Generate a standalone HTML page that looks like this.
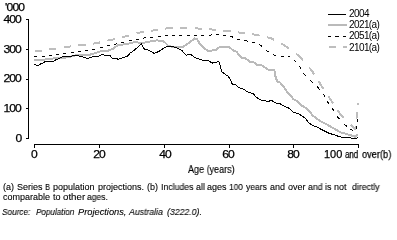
<!DOCTYPE html>
<html><head><meta charset="utf-8"><style>
html,body{margin:0;padding:0;background:#fff;}
body{width:397px;height:227px;position:relative;overflow:hidden;font-family:"Liberation Sans",sans-serif;color:#000;}
.t{position:absolute;white-space:nowrap;line-height:1;will-change:transform;}
.yl{font-size:11px;right:376px;letter-spacing:-0.8px;transform:scaleX(1.1);transform-origin:100% 0;-webkit-text-stroke:0.25px #000;}
.xl{font-size:11px;text-align:center;width:40px;letter-spacing:-0.8px;transform:scaleX(1.1);transform-origin:50% 0;-webkit-text-stroke:0.25px #000;}
.lg{font-size:10px;letter-spacing:-0.6px;left:349.3px;}
.fn{font-size:9px;-webkit-text-stroke:0.1px #000;}
svg{position:absolute;left:0;top:0;}
</style></head><body>
<svg width="397" height="227" viewBox="0 0 397 227">
<g stroke="#000" stroke-width="1" fill="none" shape-rendering="crispEdges">
<path d="M28.5,19 V138.5 M26,19.5 H29 M26,49.5 H29 M26,79.5 H29 M26,108.5 H29 M26,138.5 H29"/>
<path d="M34,144.5 H359 M34.5,144 V148 M99.5,144 V148 M164.5,144 V148 M229.5,144 V148 M293.5,144 V148 M358.5,144 V148"/>
</g>
<path shape-rendering="crispEdges" d="M35.00,51.17 L42.00,51.00 L42.09,50.98 M49.03,49.10 L56.40,48.69 M63.63,47.52 L67.40,46.80 L71.00,46.34 M78.22,45.41 L82.20,44.90 L85.60,44.51 M92.82,43.69 L96.30,43.30 L100.19,42.35 M107.42,40.59 L109.00,40.20 L111.50,39.90 L114.79,39.07 M122.02,37.23 L125.70,36.30 L129.39,35.31 M136.61,33.38 L139.90,32.50 L143.50,32.20 L143.99,32.11 M151.21,30.81 L154.60,30.20 L158.23,29.67 M165.10,28.67 L169.00,28.10 L172.63,28.02 M180.00,27.86 L183.00,27.80 L187.42,28.01 M194.69,28.35 L198.00,28.50 L202.13,28.80 M209.42,29.34 L213.00,29.60 L216.35,29.91 M223.13,30.54 L227.00,30.90 L230.83,31.41 M238.36,32.42 L242.00,32.90 L245.24,33.32 M251.97,34.20 L255.80,34.70 L259.63,35.56 M267.12,37.24 L270.50,38.00 L274.13,39.92 M280.99,43.54 L284.70,45.50 L288.65,48.41 M296.15,53.94 L299.50,56.40 L302.89,60.32 M309.05,67.43 L311.70,70.50 L314.23,74.45 M318.62,81.33 L320.90,84.90 L323.57,88.91 M328.52,96.32 L330.90,99.90 L333.10,103.27 M337.56,110.07 L340.00,113.80 L343.70,117.65 M350.85,125.08 L352.70,127.00 L355.50,129.00 L355.75,126.42 M356.44,119.27 L357.14,111.97 M357.82,104.82 L358.00,103.00" fill="none" stroke="#bebebe" stroke-width="2"/>
<polyline shape-rendering="crispEdges" points="34.0,60.2 44.1,59.6 51.2,58.8 57.5,57.5 66.0,57.5 70.0,56.7 79.0,54.7 90.0,54.7 102.4,50.7 108.0,50.8 113.0,48.7 118.0,45.2 128.3,43.7 134.3,42.2 140.4,42.7 148.0,42.4 151.0,41.2 157.2,40.3 163.2,41.4 165.3,42.7 168.3,45.8 173.4,47.1 182.6,47.0 189.2,42.6 194.7,38.5 196.8,39.0 200.3,44.6 207.4,50.7 211.5,50.7 216.1,49.6 220.1,46.9 229.2,46.9 233.3,50.6 236.3,51.6 241.4,57.7 244.9,57.7 250.1,62.1 255.1,62.6 257.2,64.9 261.2,64.9 268.3,69.7 274.4,70.0 275.6,77.1 277.2,81.6 280.2,82.6 283.2,86.2 286.3,90.7 289.3,94.3 291.1,96.1 293.1,98.9 297.2,101.2 301.2,105.2 305.3,107.7 308.8,110.3 312.3,115.1 316.3,118.2 320.4,121.2 325.8,123.9 332.4,127.7 340.2,132.2 348.7,134.6 355.0,136.7 358.0,134.6" fill="none" stroke="#bababa" stroke-width="2"/>
<path shape-rendering="crispEdges" d="M34.00,56.60 L37.31,56.60 M42.00,56.60 L44.92,56.60 M49.06,55.54 L50.00,55.30 L51.98,55.05 M56.11,54.51 L57.00,54.40 L59.11,54.09 M63.36,53.45 L64.40,53.30 L66.36,53.08 M70.61,52.61 L72.50,52.40 L73.61,52.24 M77.86,51.65 L79.60,51.40 L80.86,51.27 M85.11,50.82 L86.20,50.70 L88.11,50.35 M92.36,49.57 L93.80,49.30 L95.36,48.89 M99.60,47.77 L101.40,47.30 L102.60,47.01 M106.85,46.01 L109.00,45.50 L109.85,45.33 M114.10,44.50 L115.60,44.20 L117.10,43.84 M121.35,42.84 L123.20,42.40 L124.35,42.11 M128.60,41.03 L130.30,40.60 L131.60,40.38 M135.85,39.66 L137.40,39.40 L138.84,39.07 M143.09,38.12 L144.50,37.80 L146.00,37.70 M150.12,37.43 L152.00,37.30 L153.27,37.16 M157.73,36.65 L159.00,36.50 L160.86,36.28 M165.31,35.77 L166.80,35.60 L168.08,35.54 M172.00,35.36 L173.40,35.30 L174.90,35.30 M179.00,35.30 L180.40,35.30 L182.31,35.47 M187.01,35.90 L188.10,36.00 L189.91,35.80 M194.02,35.33 L195.20,35.20 L197.05,35.20 M201.35,35.20 L202.30,35.20 L204.39,35.20 M208.69,35.20 L209.40,35.20 L211.72,34.97 M216.02,34.55 L217.50,34.40 L218.96,34.58 M223.13,35.08 L225.00,35.30 L226.08,35.51 M230.25,36.32 L231.70,36.60 L233.06,37.27 M237.03,39.22 L238.00,39.70 L240.09,39.96 M244.42,40.50 L246.00,40.70 L247.79,41.10 M252.55,42.18 L253.50,42.40 L255.21,43.11 M258.99,44.67 L260.50,45.30 L261.99,46.58 M266.26,50.23 L267.50,51.30 L269.18,52.29 M273.32,54.72 L275.00,55.70 L276.38,55.82 M280.71,56.19 L282.00,56.30 L283.64,56.30 M287.80,56.30 L289.00,56.30 L290.21,57.15 M293.62,59.54 L294.70,60.30 L296.04,62.07 M299.09,66.10 L300.00,67.30 L301.03,68.95 M303.55,72.98 L304.50,74.50 L305.96,75.92 M310.18,80.02 L311.50,81.30 L312.97,82.68 M316.93,86.39 L318.00,87.40 L319.62,89.54 M323.08,94.09 L324.00,95.30 L324.92,96.98 M327.17,101.06 L327.90,102.40 L329.05,103.98 M332.06,108.10 L333.00,109.40 L334.04,111.15 M336.61,115.47 L337.40,116.80 L339.55,119.12 M344.35,124.29 L345.00,125.00 L346.75,126.32 M350.22,128.94 L351.50,129.90 L353.22,130.37 M355.93,129.03 L356.58,126.03 M357.50,121.78 L358.00,119.50" fill="none" stroke="#000" stroke-width="1"/>
<polyline shape-rendering="crispEdges" points="34.0,64.4 35.6,64.4 36.5,65.4 38.8,65.4 39.5,64.4 41.6,63.5 43.8,62.5 45.2,61.4 53.3,61.4 54.7,60.3 57.2,59.3 62.4,57.0 71.5,56.1 74.0,55.4 80.1,56.2 83.2,57.2 87.2,58.3 90.3,57.7 94.3,56.0 98.4,56.4 102.5,54.3 104.6,55.1 109.6,55.1 112.2,58.2 116.2,58.4 118.2,59.4 120.3,58.4 124.3,57.4 127.3,56.1 130.4,52.9 134.4,50.3 141.2,43.6 144.1,48.9 148.1,49.9 154.2,53.4 159.3,51.2 165.3,47.1 172.4,46.3 177.0,48.1 182.1,50.7 186.1,55.3 189.2,54.2 191.2,54.7 195.1,57.6 202.2,60.1 207.2,60.1 212.8,63.2 218.9,61.3 220.6,67.1 221.6,71.6 225.1,74.2 228.2,76.2 230.2,79.2 232.2,84.0 235.6,84.3 238.6,87.6 243.2,89.1 248.2,92.2 253.3,93.7 256.3,97.2 259.4,99.3 263.1,100.9 269.2,101.1 271.2,100.3 276.3,103.1 280.3,103.9 285.4,106.7 289.4,108.4 293.5,112.3 299.1,114.1 305.2,118.2 308.2,122.2 311.3,124.7 317.3,127.3 323.5,130.5 329.1,133.3 336.8,135.5 338.1,136.6 344.5,137.4 354.3,138.3 356.8,138.3 358.0,137.0" fill="none" stroke="#000" stroke-width="1"/>
<g fill="none">
<path d="M328,14.5 H346" stroke="#000" stroke-width="1"/>
<path d="M328,25 H347" stroke="#bababa" stroke-width="2"/>
<path d="M328,36.5 H346" stroke="#000" stroke-width="1" stroke-dasharray="3,4,4,4,3,10"/>
<path d="M329,47 H347" stroke="#bebebe" stroke-width="2" stroke-dasharray="7,7"/>
</g>
</svg>
<div class="t" style="left:4.8px;top:2px;font-size:11px;letter-spacing:-0.75px;transform:scaleX(1.1);transform-origin:0 0;-webkit-text-stroke:0.25px #000;">'000</div>
<div class="t yl" style="top:14px;">400</div>
<div class="t yl" style="top:44px;">300</div>
<div class="t yl" style="top:73px;">200</div>
<div class="t yl" style="top:103px;">100</div>
<div class="t yl" style="top:133px;">0</div>
<div class="t xl" style="left:13.9px;top:149px;">0</div>
<div class="t xl" style="left:79.1px;top:149px;">20</div>
<div class="t xl" style="left:144.7px;top:149px;">40</div>
<div class="t xl" style="left:207.9px;top:149px;">60</div>
<div class="t xl" style="left:272.6px;top:149px;">80</div>
<div class="t" style="left:323.8px;top:149px;font-size:11px;-webkit-text-stroke:0.25px #000;">100</div>
<div class="t" style="left:345.3px;top:149px;font-size:11px;transform:scaleX(0.72);transform-origin:0 0;-webkit-text-stroke:0.25px #000;">and</div>
<div class="t" style="left:362.2px;top:149px;font-size:11px;transform:scaleX(0.84);transform-origin:0 0;-webkit-text-stroke:0.25px #000;">over(b)</div>
<div class="t" style="left:187.6px;top:164px;font-size:11px;transform:scaleX(0.82);transform-origin:0 0;-webkit-text-stroke:0.15px #000;">Age (years)</div>
<div class="t lg" style="top:9px;">2004</div>
<div class="t lg" style="top:20px;">2021(a)</div>
<div class="t lg" style="top:31px;">2051(a)</div>
<div class="t lg" style="top:43px;">2101(a)</div>
<div class="t fn" style="left:2.5px;top:183px;">(a)</div>
<div class="t fn" style="left:16.6px;top:183px;">Series</div>
<div class="t fn" style="left:44.6px;top:183px;transform:scaleX(0.82);transform-origin:1px 0;">B</div>
<div class="t fn" style="left:53.3px;top:183px;">population</div>
<div class="t fn" style="left:98.1px;top:183px;">projections.</div>
<div class="t fn" style="left:146.5px;top:183px;">(b)</div>
<div class="t fn" style="left:160.6px;top:183px;transform:scaleX(0.97);transform-origin:1px 0;">Includes</div>
<div class="t fn" style="left:195.8px;top:183px;">all</div>
<div class="t fn" style="left:207.1px;top:183px;">ages</div>
<div class="t fn" style="left:229.0px;top:183px;transform:scaleX(0.92);transform-origin:1px 0;">100</div>
<div class="t fn" style="left:245.7px;top:183px;transform:scaleX(0.95);transform-origin:0px 0;">years</div>
<div class="t fn" style="left:269.6px;top:183px;">and</div>
<div class="t fn" style="left:288.0px;top:183px;">over</div>
<div class="t fn" style="left:307.5px;top:183px;transform:scaleX(0.97);transform-origin:0px 0;">and</div>
<div class="t fn" style="left:325.4px;top:183px;">is</div>
<div class="t fn" style="left:334.3px;top:183px;">not</div>
<div class="t fn" style="left:351.7px;top:183px;transform:scaleX(0.97);transform-origin:0px 0;">directly</div>
<div class="t fn" style="left:2.8px;top:193px;">comparable</div>
<div class="t fn" style="left:52.9px;top:193px;">to</div>
<div class="t fn" style="left:62.5px;top:193px;transform:scaleX(1.08);transform-origin:0px 0;">other</div>
<div class="t fn" style="left:87.1px;top:193px;transform:scaleX(0.95);transform-origin:0px 0;">ages.</div>
<div class="t fn" style="left:2.1px;top:208px;font-style:italic;transform:scaleX(0.91);transform-origin:1px 0;">Source:</div>
<div class="t fn" style="left:36.0px;top:208px;font-style:italic;transform:scaleX(0.9);transform-origin:0px 0;">Population</div>
<div class="t fn" style="left:78.0px;top:208px;font-style:italic;transform:scaleX(1.03);transform-origin:0px 0;">Projections,</div>
<div class="t fn" style="left:128.5px;top:208px;font-style:italic;transform:scaleX(0.97);transform-origin:0px 0;">Australia</div>
<div class="t fn" style="left:167.2px;top:208px;font-style:italic;transform:scaleX(0.97);transform-origin:0px 0;">(3222.0).</div>


</body></html>
